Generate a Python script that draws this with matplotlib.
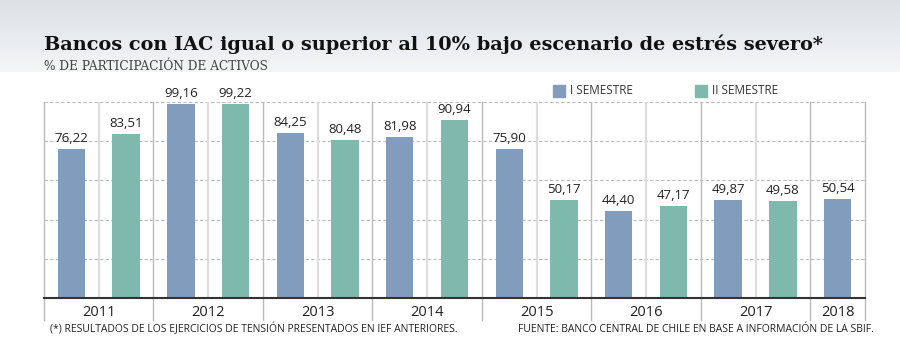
import numpy as np
import matplotlib.pyplot as plt
import matplotlib as mpl
from matplotlib.colors import LinearSegmentedColormap

years = ['2011', '2012', '2013', '2014', '2015', '2016', '2017', '2018']
sem1 = [76.22, 99.16, 84.25, 81.98, 75.90, 44.40, 49.87, 50.54]
sem2 = [83.51, 99.22, 80.48, 90.94, 50.17, 47.17, 49.58, None]

title = 'Bancos con IAC igual o superior al 10% bajo escenario de estrés severo*'
subtitle = '% DE PARTICIPACIÓN DE ACTIVOS'
note_left = '(*) RESULTADOS DE LOS EJERCICIOS DE TENSIÓN PRESENTADOS EN IEF ANTERIORES.'
note_right = 'FUENTE: BANCO CENTRAL DE CHILE EN BASE A INFORMACIÓN DE LA SBIF.'

c1, c2 = '#829cbd', '#7fb8ac'
sans = ['Open Sans', 'DejaVu Sans']

mpl.rcParams['font.family'] = sans
fig = plt.figure(figsize=(9, 3.58), dpi=100)

# background gradient in the header
bg = fig.add_axes([0, 0, 1, 1], zorder=-10)
bg.axis('off')
grad = np.ones((358, 2))
n = 72
grad[:n, :] = np.linspace(0, 1, n)[:, None]
cmap = LinearSegmentedColormap.from_list('bg', ['#dce1e6', '#f4f5f7'])
img = cmap(grad)
img[n:, :, :] = 1.0
bg.imshow(img, aspect='auto', extent=[0, 1, 0, 1], interpolation='bilinear')
bg.set_xlim(0, 1)
bg.set_ylim(0, 1)

ax = fig.add_axes([44/900, 60/358, 821/900, 196/358])
ax.set_facecolor('none')

x1, x2, v1, v2 = [], [], [], []
pos = 0
bounds = [-0.5]
for y, a, b in zip(years, sem1, sem2):
    x1.append(pos); v1.append(a); pos += 1
    if b is not None:
        x2.append(pos); v2.append(b); pos += 1
    bounds.append(pos - 0.5)
inner = [x + 0.5 for x in x1 if x + 0.5 not in bounds]

ax.bar(x1, v1, width=0.5, color=c1, zorder=3)
ax.bar(x2, v2, width=0.5, color=c2, zorder=3)
for xs, vs in ((x1, v1), (x2, v2)):
    for x, v in zip(xs, vs):
        ax.text(x, v + 2, f'{v:.2f}'.replace('.', ','), ha='center', va='bottom',
                fontsize=9.5, color='#222222', zorder=4)

ax.set_xlim(-0.5, pos - 0.5)
ax.set_ylim(0, 100)
for g in [20, 40, 60, 80, 100]:
    ax.axhline(g, color='#bbbbbb', lw=0.8, ls=(0, (3, 2)), zorder=1)
for b in inner:
    ax.axvline(b, color='#dddddd', lw=1.6, zorder=1)
for b in bounds:
    ax.plot([b, b], [-11, 100], color='#bbbbbb', lw=1, zorder=2, clip_on=False)

for sp in ['top', 'left', 'right']:
    ax.spines[sp].set_visible(False)
ax.spines['bottom'].set_color('#333333')
ax.spines['bottom'].set_linewidth(1.5)
ax.spines['bottom'].set_zorder(5)
ax.set_yticks([])
mids = [(bounds[i] + bounds[i + 1]) / 2 for i in range(len(years))]
ax.set_xticks(mids)
ax.set_xticklabels(years, fontsize=10.5, color='#222222')
ax.tick_params(axis='x', length=0, pad=5)

fig.text(44/900, 1 - 44/358, title, family=['DejaVu Serif'], weight='bold',
         fontsize=13.9, color='#111111', va='center', ha='left')
fig.text(44/900, 1 - 66/358, subtitle, family=['DejaVu Serif'], fontsize=8.7,
         color='#444444', va='center', ha='left')

# legend
for lx, lab, c in ((553, 'I SEMESTRE', c1), (695, 'II SEMESTRE', c2)):
    fig.patches.append(mpl.patches.Rectangle((lx/900, 1 - 97/358), 12/900, 12/358,
                                             transform=fig.transFigure, color=c))
    fig.text((lx + 17)/900, 1 - 91/358, lab, fontsize=8.5, color='#333333',
             va='center', ha='left')

fig.text(50/900, 1 - 329/358, note_left, fontsize=7.5, color='#222222', va='center', ha='left')
fig.text(874/900, 1 - 329/358, note_right, fontsize=7.5, color='#222222', va='center', ha='right')

fig.savefig('out.png', dpi=100)
